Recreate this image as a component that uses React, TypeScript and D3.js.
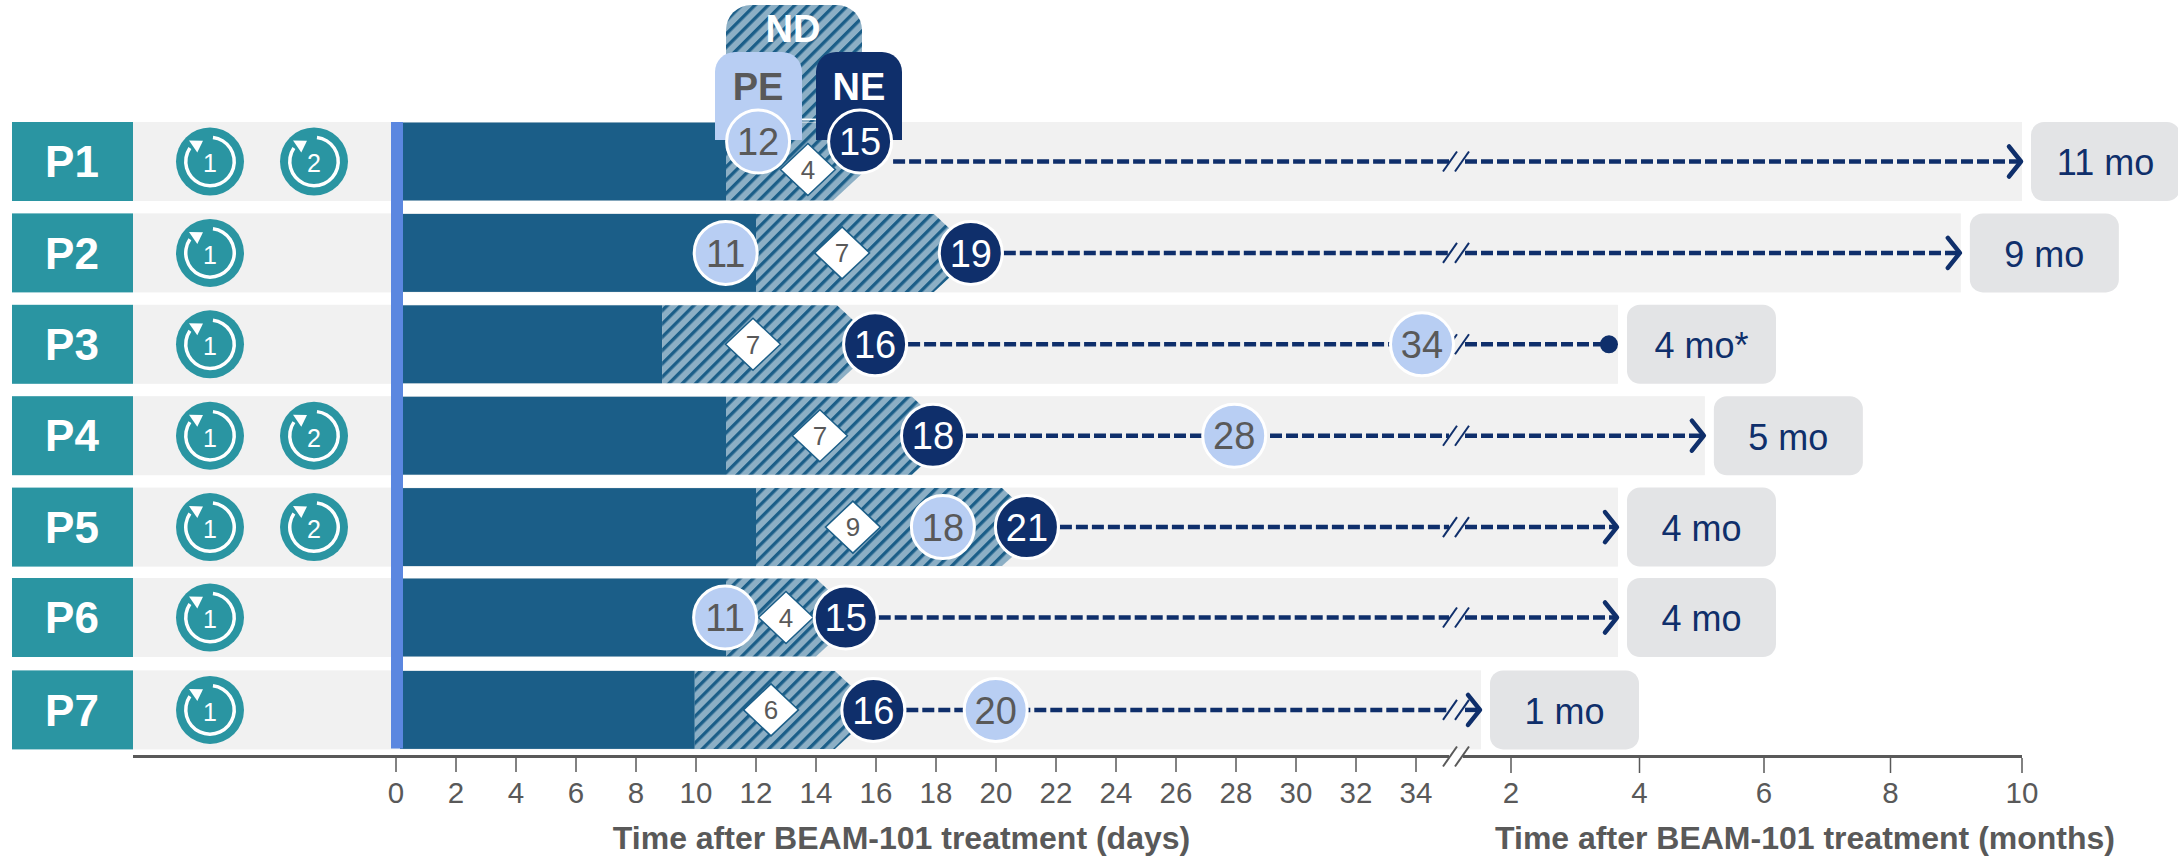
import React from "react";
import * as d3 from "d3";

const patients = ["P1", "P2", "P3", "P4", "P5", "P6", "P7"];
const cycles = [2, 1, 1, 2, 2, 1, 1];
const ndStart = [11, 12, 8.87, 11, 12, 11, 9.96];
const ndShoulder = [14.57, 17.93, 14.7, 17.2, 20.2, 14.0, 14.63];
const ndPos = [13.73, 14.87, 11.9, 14.13, 15.23, 13.0, 12.5];
const ndLabel = [4, 7, 7, 7, 9, 4, 6];
const pePos = [12.07, 10.99, 34.2, 27.94, 18.23, 10.97, 19.99];
const peLabel = [12, 11, 34, 28, 18, 11, 20];
const nePos = [15.47, 19.16, 15.97, 17.9, 21.03, 14.99, 15.91];
const neLabel = [15, 19, 16, 18, 21, 15, 16];
const endMonth = [10, 9.07, 3.665, 5.05, 3.665, 3.665, 1.533];
const durationLabel = ["11 mo", "9 mo", "4 mo*", "5 mo", "4 mo", "4 mo", "1 mo"];
const ongoing = [true, true, false, true, true, true, true];
const dayTicks = [0, 2, 4, 6, 8, 10, 12, 14, 16, 18, 20, 22, 24, 26, 28, 30, 32, 34];
const monthTicks = [2, 4, 6, 8, 10];

const FONT = "'Liberation Sans', Arial, sans-serif";
const C = {
  teal: "#2A95A2", rowBg: "#F1F1F1", dark: "#1B5E88", hatchBase: "#8CAFC5", blue: "#5B87E0",
  pe: "#B8CEF3", ne: "#0F2F6B", gray: "#595959", box: "#E3E4E6",
};

const xDay = d3.scaleLinear().domain([0, 34]).range([396, 1416]);
const xMonth = d3.scaleLinear().domain(monthTicks).range([1511, 1639.5, 1764, 1890.5, 2022]);
const rowScale = d3.scalePoint<string>().domain(patients).range([122, 670.4]);
const rowNudge = [0, 0, 0, 0, 0, -1, 0];
const ROW_H = 79;
const top = (i: number) => (rowScale(patients[i]) as number) + rowNudge[i];
const mid = (i: number) => top(i) + ROW_H / 2;

const BREAK_X = 1456;
const arcRing = d3.arc()({ innerRadius: 22.5, outerRadius: 26, startAngle: (7 * Math.PI) / 180, endAngle: (304 * Math.PI) / 180 }) as string;

function T({ x, y, fs, fill, bold, children, anchor = "middle" }: any) {
  return (
    <text x={x} y={y + fs * 0.358} fontSize={fs} fill={fill} fontWeight={bold ? 700 : 400} textAnchor={anchor} fontFamily={FONT}>
      {children}
    </text>
  );
}

function Icon({ cx, cy, n }: { cx: number; cy: number; n: number }) {
  return (
    <g transform={`translate(${cx},${cy})`}>
      <circle r={34} fill={C.teal} />
      <path d={arcRing} fill="#fff" />
      <path d="M-21,-21 L-7,-20.7 L-12.7,-9 Z" fill="#fff" />
      <T x={0} y={2} fs={25} fill="#fff">{n}</T>
    </g>
  );
}

function Bubble({ cx, cy, fill, text, textFill }: any) {
  return (
    <g>
      <circle cx={cx} cy={cy} r={31.5} fill={fill} stroke="#fff" strokeWidth={3} />
      <T x={cx} y={cy} fs={38} fill={textFill}>{text}</T>
    </g>
  );
}

function Slashes({ cy, stroke, w, h }: any) {
  return (
    <g stroke={stroke} strokeWidth={w} fill="none">
      <line x1={BREAK_X - 13} y1={cy + h} x2={BREAK_X + 1} y2={cy - h} />
      <line x1={BREAK_X - 1} y1={cy + h} x2={BREAK_X + 13} y2={cy - h} />
    </g>
  );
}

export default function App() {
  return (
    <svg width={2178} height={856} style={{ position: "absolute", left: 0, top: 0, display: "block", background: "#fff" }}>
      <defs>
        <pattern id="hatch" width={9.4} height={9.4} patternUnits="userSpaceOnUse" patternTransform="rotate(45)">
          <rect width={9.4} height={9.4} fill={C.hatchBase} />
          <rect width={3.3} height={9.4} fill={C.dark} />
        </pattern>
      </defs>

      <path d="M726,122 V30 a25,25 0 0 1 25,-25 H837 a25,25 0 0 1 25,25 V122 Z" fill="url(#hatch)" />
      <line x1={801} x2={816} y1={119.3} y2={119.3} stroke="#fff" strokeWidth={1.5} />

      {patients.map((p, i) => {
        const y0 = top(i);
        const cy = mid(i);
        const xEnd = xMonth(endMonth[i]);
        const s = xDay(ndShoulder[i]);
        const hatch = `M${xDay(ndStart[i])},${y0 + 0.5} H${s} L${s + 42},${cy} L${s},${y0 + ROW_H - 0.5} H${xDay(ndStart[i])} Z`;
        return (
          <g key={p}>
            <rect x={133} y={y0} width={xEnd - 133} height={ROW_H} fill={C.rowBg} />
            <rect x={12} y={y0} width={121} height={ROW_H} fill={C.teal} />
            <T x={72} y={cy} fs={44} fill="#fff" bold>{p}</T>
            {d3.range(cycles[i]).map((c) => (
              <Icon key={c} cx={210 + c * 104} cy={cy} n={c + 1} />
            ))}
            <rect x={400} y={y0 + 0.5} width={xDay(ndStart[i]) - 400} height={ROW_H - 1} fill={C.dark} />
            <path d={hatch} fill="url(#hatch)" />
            <rect x={xEnd + 9} y={y0} width={149} height={ROW_H} rx={13} fill={C.box} />
            <T x={xEnd + 83.5} y={cy + 1} fs={36} fill={C.ne}>{durationLabel[i]}</T>
          </g>
        );
      })}

      <rect x={391} y={122} width={12} height={626.5} fill={C.blue} />

      <path d="M715,140 V72 a20,20 0 0 1 20,-20 H782 a20,20 0 0 1 20,20 V140 Z" fill={C.pe} />
      <path d="M816,140 V72 a20,20 0 0 1 20,-20 H882 a20,20 0 0 1 20,20 V140 Z" fill={C.ne} />
      <T x={793} y={28} fs={38} fill="#fff" bold>ND</T>
      <T x={758} y={86} fs={38} fill={C.gray} bold>PE</T>
      <T x={859} y={86} fs={38} fill="#fff" bold>NE</T>

      {patients.map((p, i) => {
        const cy = mid(i);
        const xEnd = xMonth(endMonth[i]);
        const lift = p === "P1" ? -20 : 0;
        const ndDrop = p === "P1" ? 8 : 0;
        const nx = xDay(nePos[i]);
        const px = xDay(pePos[i]);
        const dx = xDay(ndPos[i]);
        const dashStart = nx + 33;
        const lineEnd = ongoing[i] ? xEnd - 2 : xEnd - 12;
        return (
          <g key={p}>
            <g stroke={C.ne} strokeWidth={4.5} strokeDasharray="12 4" fill="none">
              <line x1={dashStart} x2={BREAK_X - 7} y1={cy} y2={cy} />
              <line x1={BREAK_X + 9} x2={lineEnd} y1={cy} y2={cy} />
            </g>
            <Slashes cy={cy} stroke={C.ne} w={2} h={10} />
            {ongoing[i] ? (
              <path d={`M${xEnd - 13},${cy - 15} L${xEnd - 1},${cy} L${xEnd - 13},${cy + 15}`} fill="none" stroke={C.ne} strokeWidth={4.5} strokeLinecap="round" strokeLinejoin="round" />
            ) : (
              <circle cx={xEnd - 9} cy={cy} r={9} fill={C.ne} />
            )}
            <path d={`M${dx - 27.5},${cy + ndDrop} L${dx},${cy + ndDrop - 26} L${dx + 27.5},${cy + ndDrop} L${dx},${cy + ndDrop + 26} Z`} fill="#fff" stroke={C.dark} strokeWidth={1.5} />
            <T x={dx} y={cy + ndDrop} fs={26} fill={C.gray}>{ndLabel[i]}</T>
            <Bubble cx={px} cy={cy + lift} fill={C.pe} text={peLabel[i]} textFill={C.gray} />
            <Bubble cx={nx} cy={cy + lift} fill={C.ne} text={neLabel[i]} textFill="#fff" />
          </g>
        );
      })}

      <g stroke={C.gray} fill="none">
        <line x1={133} x2={BREAK_X - 7} y1={756.5} y2={756.5} strokeWidth={3} />
        <line x1={BREAK_X + 7} x2={2022} y1={756.5} y2={756.5} strokeWidth={3} />
        <Slashes cy={756.5} stroke={C.gray} w={2} h={10} />
        {dayTicks.map((d) => (
          <line key={d} x1={xDay(d)} x2={xDay(d)} y1={758} y2={772} strokeWidth={1.5} />
        ))}
        {monthTicks.map((m) => (
          <line key={m} x1={xMonth(m)} x2={xMonth(m)} y1={758} y2={773} strokeWidth={1.5} />
        ))}
      </g>
      {dayTicks.map((d) => (
        <T key={d} x={xDay(d)} y={792} fs={29.5} fill={C.gray}>{d}</T>
      ))}
      {monthTicks.map((m) => (
        <T key={m} x={xMonth(m)} y={792} fs={29.5} fill={C.gray}>{m}</T>
      ))}
      <T x={901.5} y={838} fs={32} fill={C.gray} bold>Time after BEAM-101 treatment (days)</T>
      <T x={1805} y={838} fs={32} fill={C.gray} bold>Time after BEAM-101 treatment (months)</T>
    </svg>
  );
}
